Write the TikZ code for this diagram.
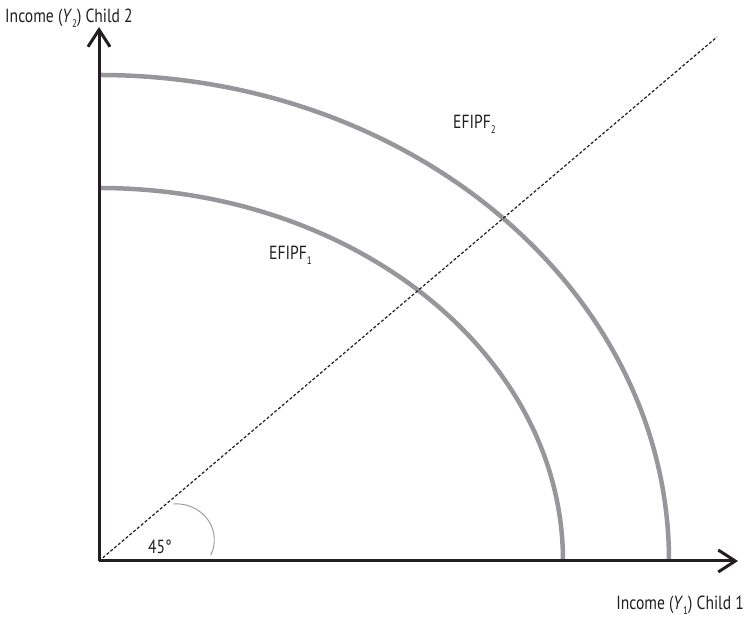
\documentclass[tikz,border=0pt]{standalone}
\usepackage{fontspec}
\setmainfont{PT Sans}
\usetikzlibrary{arrows.meta}
\definecolor{axisc}{HTML}{231F20}
\definecolor{curvec}{HTML}{96969B}
\newcommand{\lbl}[1]{\scalebox{0.82}[1]{#1}}
\newcommand{\sbs}[1]{\raisebox{-0.5ex}{\fontsize{11}{11}\selectfont #1}}
\begin{document}
\begin{tikzpicture}[x=1pt,y=1pt,
  axis/.style={draw=axisc, line width=3pt, -{Straight Barb[length=17pt,width=22pt,line width=3pt]}},
  frontier/.style={draw=curvec, line width=4.5pt},
  diag/.style={draw=axisc, line width=1.2pt, dash pattern=on 3pt off 2pt},
  anglearc/.style={draw=curvec, line width=0.9pt},
  lab/.style={inner sep=0pt, font=\fontsize{19}{19}\selectfont, text=axisc}]
\useasboundingbox (0,0) rectangle (747,620);
\coordinate (O) at (99,59);
\coordinate (ytop) at (99,593);
\coordinate (xend) at (738,59);
\coordinate (dend) at (717,583);
\coordinate (o2) at (99,545);
\coordinate (o1) at (99,432);
\coordinate (a1) at (173,116);
% frontiers
\draw[frontier] (o2) arc[start angle=90, end angle=0, x radius=570, y radius=486];
\draw[frontier] (o1) arc[start angle=90, end angle=0, x radius=464, y radius=373];
% diagonal
\draw[diag] (O) -- (dend);
% angle arc
\draw[anglearc] (a1) arc[start angle=95, end angle=-25, x radius=38, y radius=36];
% axes
\draw[axis] (O) -- (ytop);
\draw[axis] (O) -- (xend);
% labels
\node[lab, anchor=base west] (ly) at (5,597) {\lbl{Income (\textit{Y}\sbs{2}) Child 2}};
\node[lab, anchor=base east] (lx) at (744,10) {\lbl{Income (\textit{Y}\sbs{1}) Child 1}};
\node[lab, anchor=base west] (e2) at (453,491) {\lbl{EFIPF\sbs{2}}};
\node[lab, anchor=base west] (e1) at (269,360) {\lbl{EFIPF\sbs{1}}};
\node[lab, anchor=base west] (ang) at (148,66) {\lbl{45°}};
\end{tikzpicture}
\end{document}
